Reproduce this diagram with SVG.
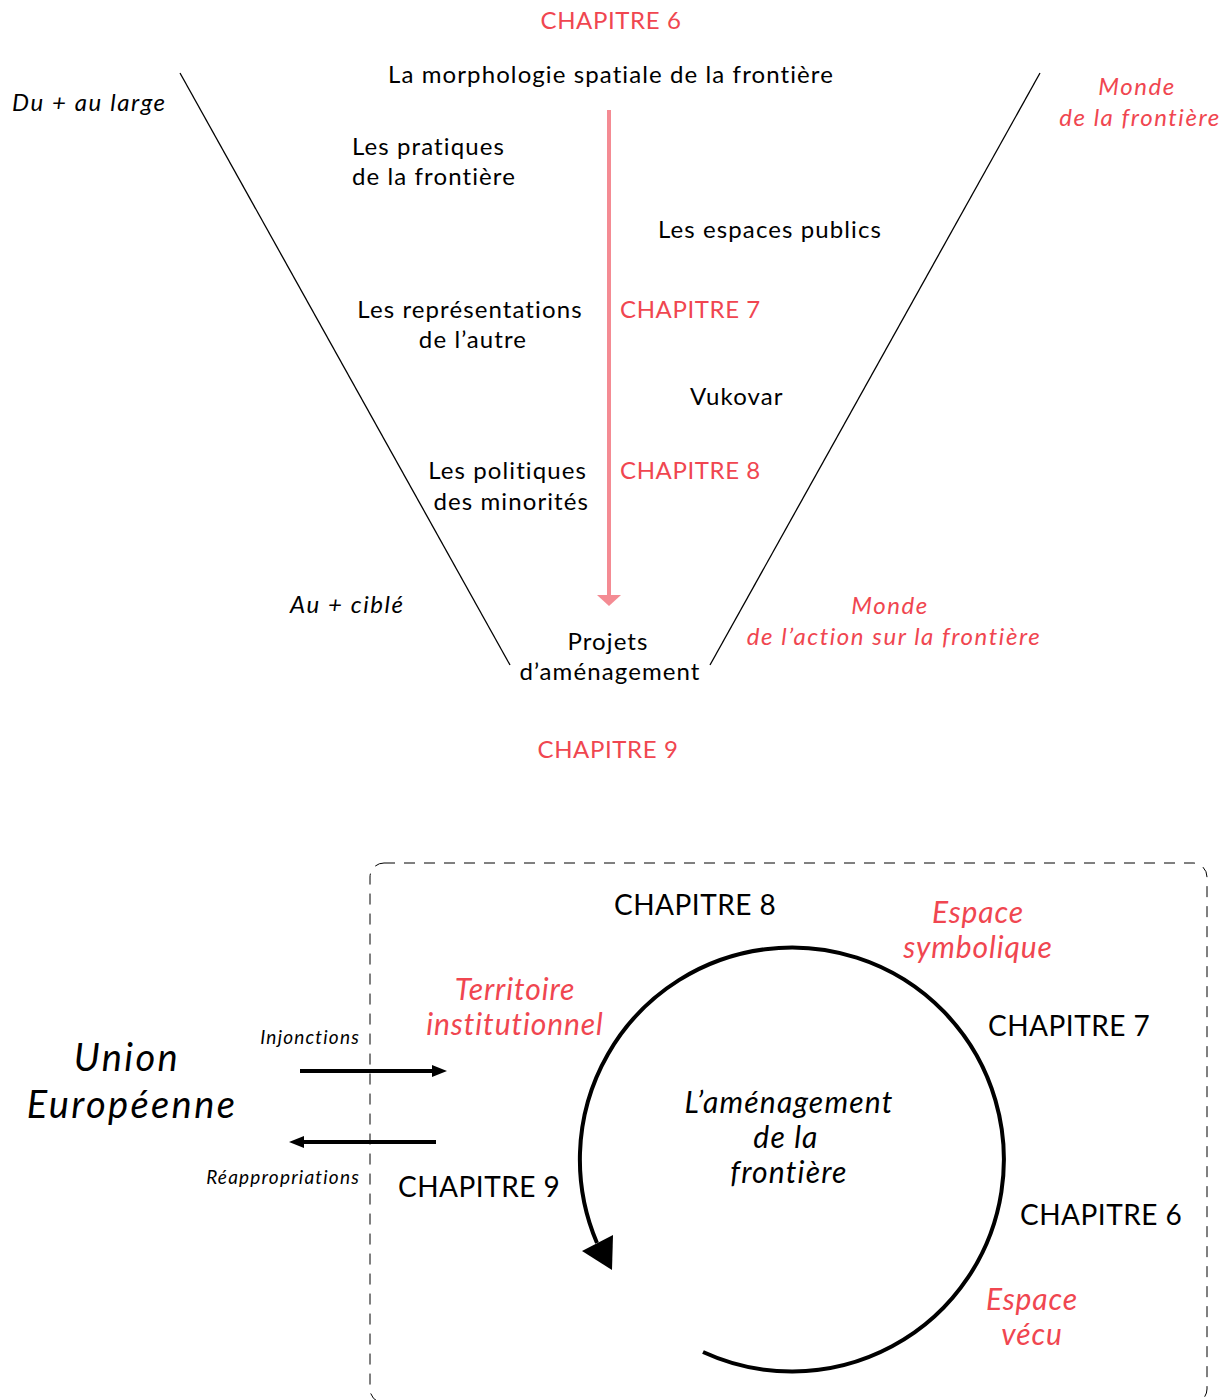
<svg xmlns="http://www.w3.org/2000/svg" width="1231" height="1400" viewBox="0 0 1231 1400">
<style>
text{font-family:Lato,"Open Sans","DejaVu Sans",sans-serif;}
.t{font-size:24px;fill:#000;letter-spacing:1.1px;}
.r{font-size:24px;fill:#f04650;letter-spacing:0.6px;}
.ri{font-size:24px;fill:#f04650;font-style:italic;letter-spacing:1.55px;}
.i{font-size:24px;fill:#000;font-style:italic;letter-spacing:1.6px;}
.big{font-size:28px;fill:#000;letter-spacing:0.5px;}
.bigr{font-size:30px;fill:#f04650;font-style:italic;letter-spacing:0.9px;}
.bigi{font-size:30px;fill:#000;font-style:italic;letter-spacing:1.2px;}
.huge{font-size:38px;fill:#000;font-style:italic;letter-spacing:2.4px;}
.sm{font-size:19px;fill:#000;font-style:italic;letter-spacing:1.2px;}
.m{text-anchor:middle;}
.e{text-anchor:end;}
</style>
<rect width="1231" height="1400" fill="#fff"/>
<g id="connectors">
<line x1="180" y1="73" x2="510" y2="665" stroke="#000" stroke-width="1.3"/>
<line x1="1040" y1="73" x2="710" y2="665" stroke="#000" stroke-width="1.3"/>
<line x1="609" y1="110" x2="609" y2="596" stroke="#f48b93" stroke-width="4"/>
<polygon points="597,595 621,595 609,606" fill="#f48b93"/>
<rect x="370" y="863" width="837" height="540" rx="14" fill="none" stroke="#000" stroke-width="1" stroke-dasharray="11,9"/>
<path d="M 703 1352 A 212 212 0 1 0 597 1243" fill="none" stroke="#000" stroke-width="4"/>
<polygon points="612,1270 582,1251 613,1235" fill="#000"/>
<line x1="300" y1="1071" x2="434" y2="1071" stroke="#000" stroke-width="4"/>
<polygon points="447,1071 432,1065 432,1077" fill="#000"/>
<line x1="436" y1="1142" x2="302" y2="1142" stroke="#000" stroke-width="4"/>
<polygon points="289,1142 304,1136 304,1148" fill="#000"/>
</g>
<g id="top-labels">
<text class="r m" x="611" y="29">CHAPITRE 6</text>
<text class="t m" x="611" y="83">La morphologie spatiale de la frontière</text>
<text class="i" x="12" y="111">Du + au large</text>
<text class="ri m" x="1137" y="95">Monde</text>
<text class="ri m" x="1140" y="126">de la frontière</text>
<text class="t" x="352" y="155">Les pratiques</text>
<text class="t" x="352" y="185">de la frontière</text>
<text class="t" x="658" y="238">Les espaces publics</text>
<text class="t m" x="470" y="318">Les représentations</text>
<text class="t m" x="473" y="348">de l’autre</text>
<text class="r" x="620" y="318">CHAPITRE 7</text>
<text class="t" x="690" y="405">Vukovar</text>
<text class="t e" x="587" y="479">Les politiques</text>
<text class="t e" x="589" y="510">des minorités</text>
<text class="r" x="620" y="479">CHAPITRE 8</text>
<text class="i" x="290" y="613">Au + ciblé</text>
<text class="ri m" x="890" y="614">Monde</text>
<text class="ri m" x="894" y="645">de l’action sur la frontière</text>
<text class="t m" x="608" y="650">Projets</text>
<text class="t m" x="610" y="680">d’aménagement</text>
<text class="r m" x="608" y="758">CHAPITRE 9</text>
</g>
<g id="bottom-labels">
<text class="huge m" x="127" y="1071">Union</text>
<text class="huge m" x="132" y="1118">Européenne</text>
<text class="sm e" x="360" y="1044">Injonctions</text>
<text class="sm e" x="360" y="1184">Réappropriations</text>
<text class="big" x="614" y="915">CHAPITRE 8</text>
<text class="bigr m" x="978" y="923">Espace</text>
<text class="bigr m" x="978" y="958">symbolique</text>
<text class="bigr m" x="515" y="1000">Territoire</text>
<text class="bigr m" x="515" y="1035">institutionnel</text>
<text class="big" x="988" y="1036">CHAPITRE 7</text>
<text class="bigi m" x="789" y="1113">L’aménagement</text>
<text class="bigi m" x="786" y="1148">de la</text>
<text class="bigi m" x="789" y="1183">frontière</text>
<text class="big" x="398" y="1197">CHAPITRE 9</text>
<text class="big" x="1020" y="1225">CHAPITRE 6</text>
<text class="bigr m" x="1032" y="1310">Espace</text>
<text class="bigr m" x="1032" y="1345">vécu</text>
</g>
</svg>
